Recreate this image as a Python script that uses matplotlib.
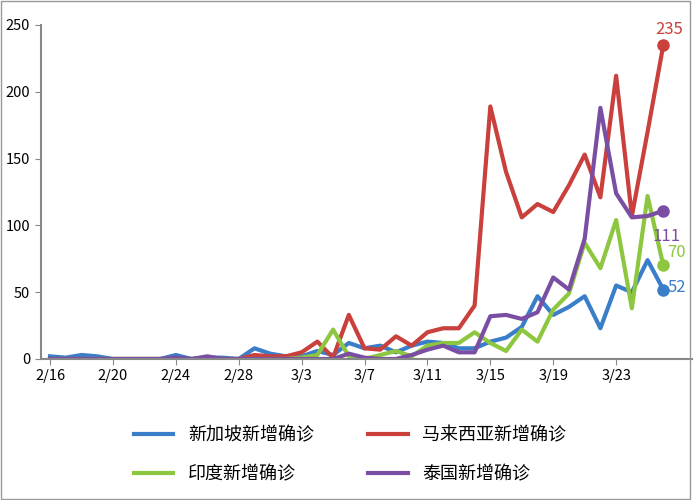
import matplotlib.pyplot as plt
import pandas as pd

plt.rcParams['font.family'] = ['Noto Sans CJK SC', 'DejaVu Sans']

dates = pd.date_range('2020-02-16', '2020-03-26')
singapore = [2, 1, 3, 2, 0, 0, 0, 0, 3, 0, 1, 1, 0, 8, 4, 2, 2, 6, 3, 12,
             8, 10, 5, 10, 13, 12, 8, 8, 13, 16, 24, 47, 33, 39, 47, 23, 55, 50, 74, 52]
malaysia = [0, 0, 0, 0, 0, 0, 0, 0, 0, 0, 0, 0, 0, 3, 2, 2, 5, 13, 1, 33,
            8, 7, 17, 10, 20, 23, 23, 40, 189, 140, 106, 116, 110, 130, 153, 121, 212, 107, 170, 235]
india = [0, 0, 0, 0, 0, 0, 0, 0, 0, 0, 0, 0, 0, 0, 0, 0, 1, 3, 22, 2,
         0, 3, 6, 2, 10, 12, 12, 20, 12, 6, 22, 13, 37, 49, 87, 68, 104, 38, 122, 70]
thailand = [0, 0, 0, 0, 0, 0, 0, 0, 1, 0, 2, 0, 0, 0, 0, 0, 0, 0, 0, 4,
            1, 0, 0, 3, 7, 10, 5, 5, 32, 33, 30, 35, 61, 52, 90, 188, 124, 106, 107, 111]
tick_dates = pd.date_range('2020-02-16', '2020-03-23', freq='4D')
tick_labels = [f"{d.month}/{d.day}" for d in tick_dates]

# name, values, colour, label offset (points)
series = [
    ("新加坡新增确诊", singapore, "#3a7dc9", (3, -2)),
    ("马来西亚新增确诊", malaysia, "#c9403c", (-6, 8)),
    ("印度新增确诊", india, "#8dc63f", (3, 6)),
    ("泰国新增确诊", thailand, "#7a4fa3", (-8, -22)),
]

fig = plt.figure(figsize=(7, 5), dpi=100)
ax = fig.add_axes([0.058, 0.282, 0.93, 0.668])
lines = {}
for name, vals, col, off in series:
    ln, = ax.plot(dates, vals, color=col, lw=3, label=name)
    lines[name] = ln
    ax.plot(dates[-1], vals[-1], 'o', color=col, ms=8)
    ax.annotate(str(vals[-1]), (dates[-1], vals[-1]), xytext=off,
                textcoords='offset points', color=col, fontsize=12)

ax.set_ylim(0, 250)
ax.set_yticks(range(0, 251, 50))
ax.set_xlim(dates[0] - pd.Timedelta(days=0.6), dates[-1] + pd.Timedelta(days=1.8))
ax.set_xticks(tick_dates)
ax.set_xticklabels(tick_labels)
ax.tick_params(labelsize=10.5, length=4, color='#888888')
for s in ['top', 'right']:
    ax.spines[s].set_visible(False)
for s in ['left', 'bottom']:
    ax.spines[s].set_color('#888888')
    ax.spines[s].set_linewidth(1.5)

order = ["新加坡新增确诊", "印度新增确诊", "马来西亚新增确诊", "泰国新增确诊"]
fig.legend([lines[n] for n in order], order, loc='lower center', bbox_to_anchor=(0.5, 0.0),
           ncol=2, frameon=False, fontsize=13, handlelength=2.2, columnspacing=3, labelspacing=1.2)
fig.add_artist(plt.Rectangle((0.002, 0.002), 0.984, 0.996, transform=fig.transFigure,
                             fill=False, edgecolor='#999999', lw=1))
fig.savefig('out.png')
